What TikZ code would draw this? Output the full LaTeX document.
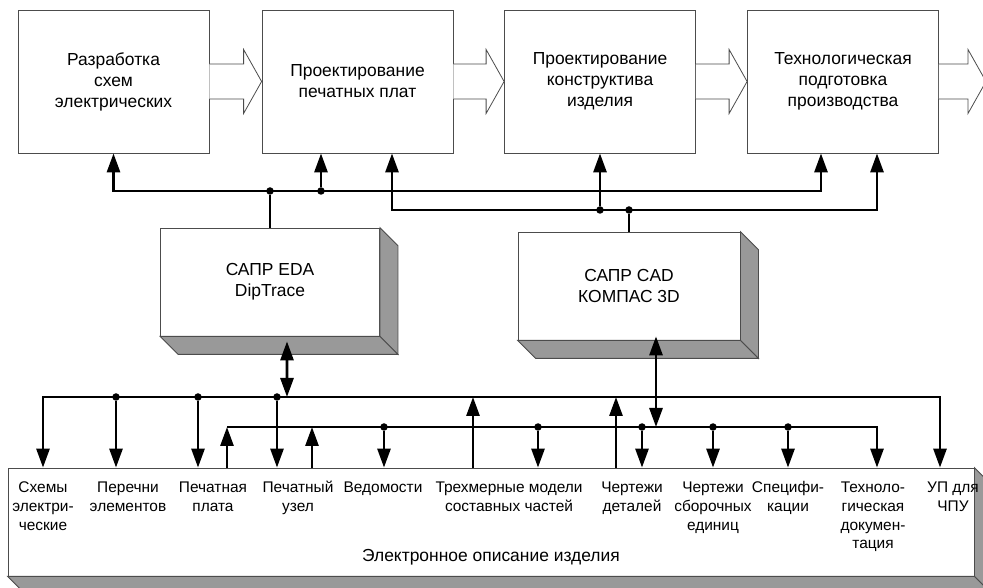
\documentclass[tikz,border=0pt]{standalone}
\usepackage{fontspec}
\setmainfont{Liberation Sans}
\usetikzlibrary{arrows.meta}
\begin{document}
\begin{tikzpicture}[>={Triangle[length=19bp,width=13bp]},line join=miter,
  stage/.style={draw=black!70,line width=0.8bp,rectangle,minimum width=191bp,minimum height=143bp,inner sep=0,align=center,font=\fontsize{17.5}{21}\selectfont},
  flow/.style={draw=black!70,line width=0.8bp,fill=white},
  cadbox/.style={draw=black!70,line width=0.8bp,fill=white,rectangle,minimum height=108bp,inner sep=0,align=center,font=\fontsize{17.5}{21}\selectfont},
  side/.style={draw=black!70,line width=0.8bp,fill=black!40},
  item/.style={anchor=base,inner sep=0,font=\fontsize{15.5}{18.7}\selectfont},
  dot/.style={circle,fill=black,inner sep=0,minimum size=7.5bp},
  bus/.style={line width=2.8bp}]
\useasboundingbox (0bp,0bp) rectangle (983bp,588bp);
%%
\node (b1) at (113.5bp,506.5bp) [stage] {Разработка\\схем\\электрических};
  \node (b2) at (357.5bp,506.5bp) [stage] {Проектирование\\печатных плат};
  \node (b3) at (600.0bp,506.5bp) [stage] {Проектирование\\конструктива\\изделия};
  \node (b4) at (843.0bp,506.5bp) [stage] {Технологическая\\подготовка\\производства};
  \coordinate (out) at (986.0bp,506.5bp);
%
  \draw [flow] ([yshift=17.5bp]b1.east) -- ([xshift=-18bp,yshift=17.5bp]b2.west) -- ([xshift=-18bp,yshift=32bp]b2.west) -- (b2.west) -- ([xshift=-18bp,yshift=-32bp]b2.west) -- ([xshift=-18bp,yshift=-17.5bp]b2.west) -- ([yshift=-17.5bp]b1.east);
  \draw [flow] ([yshift=17.5bp]b2.east) -- ([xshift=-18bp,yshift=17.5bp]b3.west) -- ([xshift=-18bp,yshift=32bp]b3.west) -- (b3.west) -- ([xshift=-18bp,yshift=-32bp]b3.west) -- ([xshift=-18bp,yshift=-17.5bp]b3.west) -- ([yshift=-17.5bp]b2.east);
  \draw [flow] ([yshift=17.5bp]b3.east) -- ([xshift=-18bp,yshift=17.5bp]b4.west) -- ([xshift=-18bp,yshift=32bp]b4.west) -- (b4.west) -- ([xshift=-18bp,yshift=-32bp]b4.west) -- ([xshift=-18bp,yshift=-17.5bp]b4.west) -- ([yshift=-17.5bp]b3.east);
  \draw [flow] ([yshift=17.5bp]b4.east) -- ([xshift=-18bp,yshift=17.5bp]out) -- ([xshift=-18bp,yshift=32bp]out) -- (out) -- ([xshift=-18bp,yshift=-32bp]out) -- ([xshift=-18bp,yshift=-17.5bp]out) -- ([yshift=-17.5bp]b4.east);
%
  \node (eda) at (270.0bp,306.0bp) [cadbox,minimum width=219bp] {САПР EDA\\DipTrace};
  \draw [side] (eda.north east) -- ++(18bp,-18bp) -- ([shift={(18bp,-18bp)}]eda.south east) -- (eda.south east) -- cycle;
  \draw [side] (eda.south west) -- (eda.south east) -- ++(18bp,-18bp) -- ([shift={(18bp,-18bp)}]eda.south west) -- cycle;
  \node (cad) at (629.0bp,302.0bp) [cadbox,minimum width=222bp] {САПР CAD\\КОМПАС 3D};
  \draw [side] (cad.north east) -- ++(18bp,-18bp) -- ([shift={(18bp,-18bp)}]cad.south east) -- (cad.south east) -- cycle;
  \draw [side] (cad.south west) -- (cad.south east) -- ++(18bp,-18bp) -- ([shift={(18bp,-18bp)}]cad.south west) -- cycle;
%
  \node (desc) at (491.0bp,66.0bp) [cadbox,minimum width=966bp] {};
  \draw [side] (desc.north east) -- ++(12bp,-12bp) -- ([shift={(12bp,-12bp)}]desc.south east) -- (desc.south east) -- cycle;
  \draw [side] (desc.south west) -- (desc.south east) -- ++(12bp,-12bp) -- ([shift={(12bp,-12bp)}]desc.south west) -- cycle;
  \node (title) at (491.0bp,30.5bp) [font=\fontsize{17.5}{21}\selectfont] {Электронное описание изделия};
%
  \node (schemes) at (43.0bp,95.0bp) [item] {\begin{tabular}[t]{@{}c@{}}Схемы\\электри-\\ческие\end{tabular}};
  \node (lists) at (128.0bp,95.0bp) [item] {\begin{tabular}[t]{@{}c@{}}Перечни\\элементов\end{tabular}};
  \node (pcb) at (213.0bp,95.0bp) [item] {\begin{tabular}[t]{@{}c@{}}Печатная\\плата\end{tabular}};
  \node (pca) at (298.0bp,95.0bp) [item] {\begin{tabular}[t]{@{}c@{}}Печатный\\узел\end{tabular}};
  \node (sheets) at (383.0bp,95.0bp) [item] {\begin{tabular}[t]{@{}c@{}}Ведомости\end{tabular}};
  \node (models) at (509.0bp,95.0bp) [item] {\begin{tabular}[t]{@{}c@{}}Трехмерные модели\\составных частей\end{tabular}};
  \node (parts) at (632.0bp,95.0bp) [item] {\begin{tabular}[t]{@{}c@{}}Чертежи\\деталей\end{tabular}};
  \node (assy) at (713.0bp,95.0bp) [item] {\begin{tabular}[t]{@{}c@{}}Чертежи\\сборочных\\единиц\end{tabular}};
  \node (specs) at (788.0bp,95.0bp) [item] {\begin{tabular}[t]{@{}c@{}}Специфи-\\кации\end{tabular}};
  \node (techdoc) at (873.0bp,95.0bp) [item] {\begin{tabular}[t]{@{}c@{}}Техноло-\\гическая\\докумен-\\тация\end{tabular}};
  \node (cnc) at (953.0bp,95.0bp) [item] {\begin{tabular}[t]{@{}c@{}}УП для\\ЧПУ\end{tabular}};
%% upper buses
  \coordinate (aL) at (113.5bp,397.0bp);
  \coordinate (aR) at (821.0bp,397.0bp);
  \node (aE) at (270.0bp,397.0bp) [dot] {};
  \node (aP) at (321.0bp,397.0bp) [dot] {};
  \coordinate (bL) at (392.0bp,378.0bp);
  \coordinate (bR) at (877.0bp,378.0bp);
  \node (bP) at (600.0bp,378.0bp) [dot] {};
  \node (bC) at (629.0bp,378.0bp) [dot] {};
  \draw [bus,<->] (b1.south) -- (aL) -- (aR) -- (aR |- b4.south);
  \draw [bus,->] (aP) -- (aP |- b2.south);
  \draw [bus] (aE) -- (eda.north);
  \draw [bus,<->] (bL |- b2.south) -- (bL) -- (bR) -- (bR |- b4.south);
  \draw [bus,->] (bP) -- (b3.south);
  \draw [bus] (bC) -- (cad.north);
%% lower buses
  \coordinate (cL) at (43.0bp,191.0bp);
  \coordinate (cR) at (940.0bp,191.0bp);
  \coordinate (cE) at (287.0bp,191.0bp);
  \coordinate (cT) at (473.0bp,191.0bp);
  \coordinate (cD) at (616.0bp,191.0bp);
  \node (c1) at (116.0bp,191.0bp) [dot] {};
  \node (c2) at (198.0bp,191.0bp) [dot] {};
  \node (c3) at (277.0bp,191.0bp) [dot] {};
  \coordinate (dL) at (227.0bp,161.0bp);
  \coordinate (dR) at (877.0bp,161.0bp);
  \coordinate (dU) at (312.0bp,161.0bp);
  \coordinate (dK) at (656.0bp,161.0bp);
  \node (d1) at (384.0bp,161.0bp) [dot] {};
  \node (d2) at (538.0bp,161.0bp) [dot] {};
  \node (d3) at (642.0bp,161.0bp) [dot] {};
  \node (d4) at (713.0bp,161.0bp) [dot] {};
  \node (d5) at (788.0bp,161.0bp) [dot] {};
  \draw [bus,<->] (cL |- desc.north) -- (cL) -- (cR) -- (cR |- desc.north);
  \draw [bus,->] (c1) -- (c1 |- desc.north);
  \draw [bus,->] (c2) -- (c2 |- desc.north);
  \draw [bus,->] (c3) -- (c3 |- desc.north);
  \draw [bus,->] (cT |- desc.north) -- (cT);
  \draw [bus,->] (cD |- desc.north) -- (cD);
  \draw [bus,<->] ([xshift=17bp,yshift=-5bp]eda.south) -- (cE);
  \draw [bus,->] (dL |- desc.north) -- (dL);
  \draw [bus,->] (dL) -- (dR) -- (dR |- desc.north);
  \draw [bus,->] (dU |- desc.north) -- (dU);
  \draw [bus,->] (d1) -- (d1 |- desc.north);
  \draw [bus,->] (d2) -- (d2 |- desc.north);
  \draw [bus,->] (d3) -- (d3 |- desc.north);
  \draw [bus,->] (d4) -- (d4 |- desc.north);
  \draw [bus,->] (d5) -- (d5 |- desc.north);
  \draw [bus,<->] ([xshift=27bp,yshift=4bp]cad.south) -- (dK);
%
\end{tikzpicture}
\end{document}
